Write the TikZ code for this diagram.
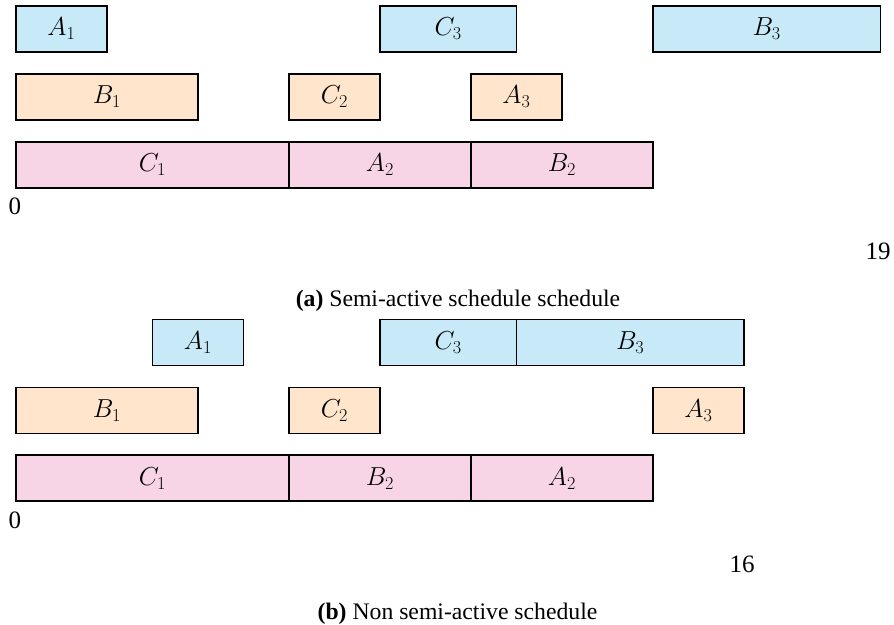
\documentclass[tikz,border=0pt]{standalone}
\usepackage{fix-cm}
\usepackage{fontspec}
\setmainfont{Liberation Serif}
\definecolor{jblue}{RGB}{199,233,248}
\definecolor{jorange}{RGB}{255,229,204}
\definecolor{jpink}{RGB}{248,213,230}
\tikzset{
  task/.style={draw=black, line width=1.8pt, anchor=north west, inner sep=0pt,
    minimum height=46pt, font=\fontsize{26}{30}\selectfont},
  bluetask/.style={task, fill=jblue},
  orangetask/.style={task, fill=jorange},
  pinktask/.style={task, fill=jpink},
  tick/.style={font=\fontsize{25}{28}\selectfont, inner sep=0pt},
  capt/.style={font=\fontsize{23.7}{26}\selectfont, inner sep=0pt, anchor=base}
}
\begin{document}
\begin{tikzpicture}[x=1pt,y=-1pt]
\useasboundingbox (0,0) rectangle (894,624);
% ---------- (a) ----------
\node[bluetask, minimum width=91pt]    (a-A1) at (15,5)      {$A_1$};
\node[bluetask, minimum width=136.5pt] (a-C3) at (379,5)     {$C_3$};
\node[bluetask, minimum width=227.5pt] (a-B3) at (652,5)     {$B_3$};
\node[orangetask, minimum width=182pt] (a-B1) at (15,72.7)   {$B_1$};
\node[orangetask, minimum width=91pt]  (a-C2) at (288,72.7)  {$C_2$};
\node[orangetask, minimum width=91pt]  (a-A3) at (470,72.7)  {$A_3$};
\node[pinktask, minimum width=273pt]   (a-C1) at (15,140.7)  {$C_1$};
\node[pinktask, minimum width=182pt]   (a-A2) at (288,140.7) {$A_2$};
\node[pinktask, minimum width=182pt]   (a-B2) at (470,140.7) {$B_2$};
\node[tick] (a-zero) at (15,206.7) {0};
\node[tick] (a-end)  at (878,251)  {19};
\node[capt] (a-cap)  at (458,306)  {\textbf{(a)} Semi-active schedule schedule};
% ---------- (b) ----------
\node[bluetask, minimum width=91pt]    (b-A1) at (151.5,318.5)   {$A_1$};
\node[bluetask, minimum width=136.5pt] (b-C3) at (379,318.5)     {$C_3$};
\node[bluetask, minimum width=227.5pt] (b-B3) at (515.5,318.5)   {$B_3$};
\node[orangetask, minimum width=182pt] (b-B1) at (15,386.5)    {$B_1$};
\node[orangetask, minimum width=91pt]  (b-C2) at (288,386.5)   {$C_2$};
\node[orangetask, minimum width=91pt]  (b-A3) at (652,386.5)   {$A_3$};
\node[pinktask, minimum width=273pt]   (b-C1) at (15,454.3)    {$C_1$};
\node[pinktask, minimum width=182pt]   (b-B2) at (288,454.3)   {$B_2$};
\node[pinktask, minimum width=182pt]   (b-A2) at (470,454.3)   {$A_2$};
\node[tick] (b-zero) at (15,520.5) {0};
\node[tick] (b-end)  at (742,564.5)  {16};
\node[capt] (b-cap)  at (457.5,619.5)  {\textbf{(b)} Non semi-active schedule};
\end{tikzpicture}
\end{document}
